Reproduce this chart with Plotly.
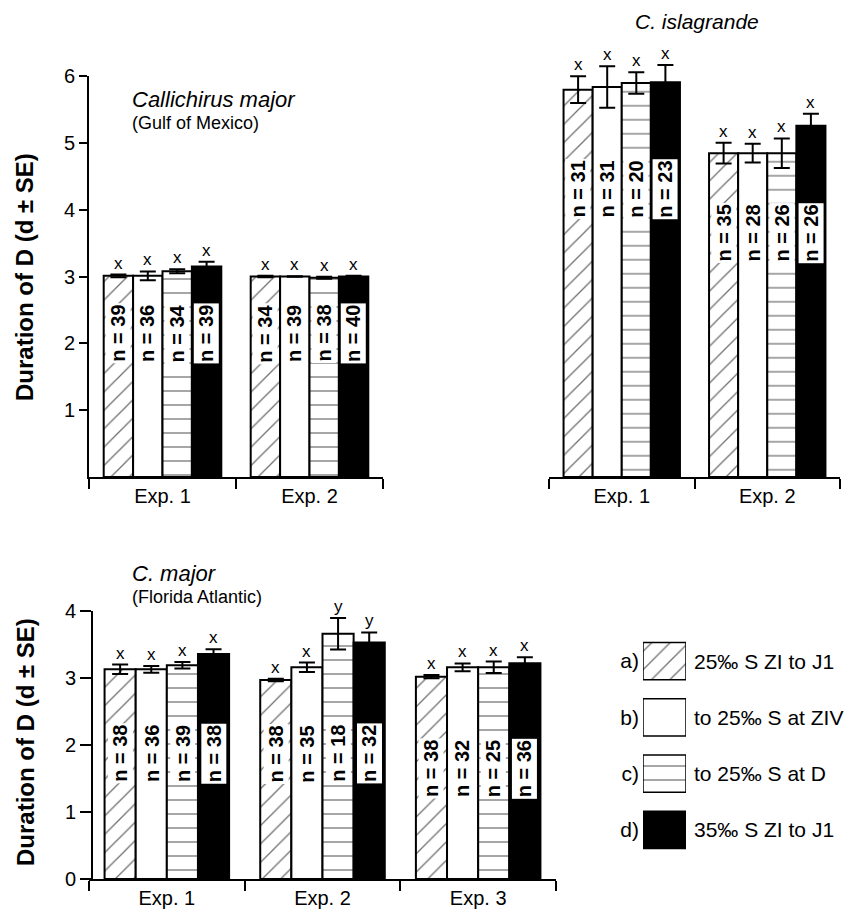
import plotly.graph_objects as go

# page is rendered in an 868x920 window with the default 8px body margin
W, H = 852, 904
OFF = 8

# ---------------- data ----------------
treatments = ["a", "b", "c", "d"]
treatment_tags = ["a)", "b)", "c)", "d)"]
treatment_labels = ["25‰ S ZI to J1", "to 25‰ S at ZIV", "to 25‰ S at D", "35‰ S ZI to J1"]

exps_two = ["Exp. 1", "Exp. 2"]
exps_three = ["Exp. 1", "Exp. 2", "Exp. 3"]

# Callichirus major (Gulf of Mexico) — rows: treatments a..d, cols: experiments
gm_mean = [[3.01, 3.00], [3.01, 3.00], [3.08, 2.98], [3.15, 3.00]]
gm_se = [[0.02, 0.01], [0.065, 0.005], [0.03, 0.015], [0.07, 0.01]]
gm_n = [[39, 34], [36, 39], [34, 38], [39, 40]]
gm_letter = [["x", "x"], ["x", "x"], ["x", "x"], ["x", "x"]]

# C. islagrande
ci_mean = [[5.79, 4.84], [5.83, 4.84], [5.89, 4.84], [5.90, 5.25]]
ci_se = [[0.20, 0.155], [0.31, 0.14], [0.16, 0.22], [0.26, 0.18]]
ci_n = [[31, 35], [31, 28], [20, 26], [23, 26]]
ci_letter = [["x", "x"], ["x", "x"], ["x", "x"], ["x", "x"]]

# C. major (Florida Atlantic)
fa_mean = [[3.13, 2.97, 3.02], [3.13, 3.16, 3.16], [3.19, 3.66, 3.16], [3.36, 3.53, 3.22]]
fa_se = [[0.07, 0.02, 0.025], [0.05, 0.07, 0.058], [0.05, 0.235, 0.085], [0.07, 0.15, 0.09]]
fa_n = [[38, 38, 38], [36, 35, 32], [39, 18, 25], [38, 32, 36]]
fa_letter = [["x", "x", "x"], ["x", "x", "x"], ["x", "y", "x"], ["x", "y", "x"]]

# ---------------- style / layout ----------------
FONT = "Liberation Sans, Arial, Helvetica, sans-serif"
BARGAP = 0.2
PXU = 66.9  # pixels per data unit
# vertical centre (data units) of the rotated "n = .." labels per experiment
gm_label_y = [2.15, 2.15]
ci_label_y = [4.30, 3.65]
fa_label_y = [1.87, 1.87, 1.65]

HATCH = dict(shape="/", fgcolor="#707070", bgcolor="white", size=13, solidity=0.1)
DOTS = dict(shape="-", fgcolor="#4a4a4a", bgcolor="white", size=14, solidity=0.07)
styles = [
    dict(color="white", pattern=HATCH),
    dict(color="white"),
    dict(color="white", pattern=DOTS),
    dict(color="black"),
]


def px_x(p):
    return (p - OFF) / W


def px_y(p):
    return 1 - (p - OFF) / H


def make_marker(st, lw):
    m = dict(color=st["color"], line=dict(color="black", width=lw))
    if "pattern" in st:
        m["pattern"] = st["pattern"]
    return m


fig = go.Figure()
annotations = []


def bar_offset(i, k=4):
    w = (1 - BARGAP) / k
    return -(1 - BARGAP) / 2 + (i + 0.5) * w


def add_panel(xa, ya, cats, means, ses, ns, letters, label_y):
    for i in range(4):
        fig.add_trace(go.Bar(
            x=cats, y=means[i], marker=make_marker(styles[i], 2),
            error_y=dict(type="data", array=ses[i], color="black", thickness=2, width=8),
            xaxis=xa, yaxis=ya, showlegend=False, hoverinfo="skip",
        ))
        for g in range(len(cats)):
            xc = g + bar_offset(i)
            annotations.append(dict(
                x=xc, y=means[i][g] + ses[i][g], xref=xa, yref=ya,
                text=letters[i][g], showarrow=False, yanchor="bottom", xanchor="center",
                font=dict(size=17, family=FONT, color="black"), yshift=0,
            ))
            annotations.append(dict(
                x=xc, y=label_y[g], xref=xa, yref=ya,
                text="n = %d" % ns[i][g], showarrow=False, textangle=-90,
                xanchor="center", yanchor="middle", bgcolor="white", borderpad=1,
                font=dict(size=20, family=FONT, color="black", weight="bold"),
            ))


add_panel("x", "y", exps_two, gm_mean, gm_se, gm_n, gm_letter, gm_label_y)
add_panel("x2", "y2", exps_two, ci_mean, ci_se, ci_n, ci_letter, ci_label_y)
add_panel("x3", "y3", exps_three, fa_mean, fa_se, fa_n, fa_letter, fa_label_y)

# legend swatches (one full-width bar per treatment, all sharing one slot)
for i, key in enumerate(treatments):
    fig.add_trace(go.Bar(
        x=[1], y=[key], orientation="h", width=0.66, offsetgroup="legend",
        marker=make_marker(styles[i], 1.5),
        xaxis="x4", yaxis="y4", showlegend=False, hoverinfo="skip",
    ))
for key, lab in zip(treatments, treatment_labels):
    annotations.append(dict(
        x=px_x(692), y=key, xref="paper", yref="y4", text=lab, showarrow=False,
        xanchor="left", yanchor="middle", font=dict(size=21, family=FONT, color="black"),
    ))


def caption(xp, yp, text, size, anchor="left", yanchor="middle", **font_extra):
    return dict(x=px_x(xp), y=px_y(yp), xref="paper", yref="paper", text=text,
                showarrow=False, xanchor=anchor, yanchor=yanchor, borderpad=0,
                font=dict(size=size, family=FONT, color="black", **font_extra))


ytitle = "Duration of D (d ± SE)"
t1 = caption(25, 277, ytitle, 24, anchor="center", weight="bold")
t1["textangle"] = -90
t2 = caption(25, 742, ytitle, 24, anchor="center", weight="bold")
t2["textangle"] = -90
annotations += [
    t1, t2,
    caption(131, 99, "<i>Callichirus major</i>", 22),
    caption(131, 123, "(Gulf of Mexico)", 18),
    caption(697, 8.5, "<i>C. islagrande</i>", 21, anchor="center", yanchor="top"),
    caption(131, 573, "<i>C. major</i>", 22),
    caption(131, 597, "(Florida Atlantic)", 18),
]

axis_common = dict(showline=True, linecolor="black", linewidth=2, ticks="outside",
                   tickcolor="black", tickwidth=2, showgrid=False, zeroline=False,
                   automargin=False, fixedrange=True,
                   tickfont=dict(size=20, family=FONT, color="black"))

xcat = dict(axis_common, type="category", tickson="boundaries", ticklen=10)

# top row: 0 at y=477px, 6 at y=76px; the invisible right panel extends higher for error bars
top2 = 6.7
fig.update_layout(
    template="none",
    width=W, height=H, margin=dict(l=0, r=0, t=0, b=0, autoexpand=False),
    paper_bgcolor="white", plot_bgcolor="rgba(0,0,0,0)",
    font=dict(family=FONT, color="black"),
    barmode="group", bargap=BARGAP, bargroupgap=0,
    xaxis=dict(xcat, domain=[px_x(89), px_x(383)], anchor="y", range=[-0.5, 1.5]),
    yaxis=dict(axis_common, domain=[px_y(477), px_y(76)], anchor="x", range=[0, 6],
               tickvals=[1, 2, 3, 4, 5, 6], ticklen=8),
    xaxis2=dict(xcat, domain=[px_x(549), px_x(840)], anchor="y2", range=[-0.5, 1.5]),
    yaxis2=dict(domain=[px_y(477), px_y(477 - top2 * PXU)], anchor="x2", range=[0, top2],
                visible=False, fixedrange=True, automargin=False),
    xaxis3=dict(xcat, domain=[px_x(89), px_x(556)], anchor="y3", range=[-0.5, 2.5]),
    yaxis3=dict(axis_common, domain=[px_y(879), px_y(611)], anchor="free", position=px_x(92),
                range=[0, 4], tickvals=[0, 1, 2, 3, 4], ticklen=11),
    xaxis4=dict(domain=[px_x(643), px_x(686)], anchor="y4", range=[0, 1], visible=False,
                fixedrange=True, automargin=False),
    yaxis4=dict(domain=[px_y(858), px_y(633)], anchor="x4", type="category",
                categoryorder="array", categoryarray=treatments, autorange="reversed",
                tickvals=treatments, ticktext=treatment_tags, showline=False, ticks="",
                showgrid=False, zeroline=False, ticklabelstandoff=3, fixedrange=True,
                automargin=False, tickfont=dict(size=21, family=FONT, color="black")),
    annotations=annotations,
)

fig.write_html("out.html")
